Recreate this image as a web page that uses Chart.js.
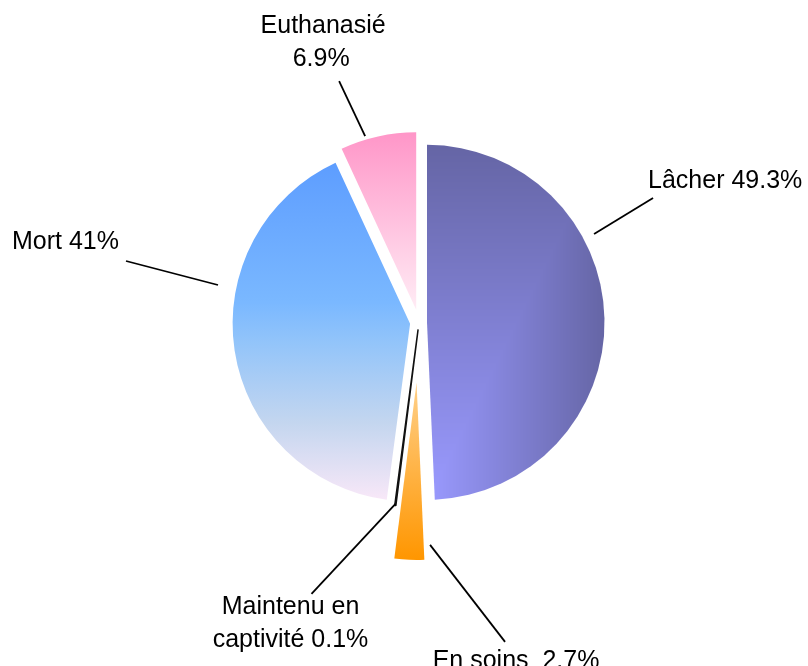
<!DOCTYPE html>
<html lang="fr">
<head>
<meta charset="utf-8">
<script src="https://cdn.jsdelivr.net/npm/chart.js@4.4.1/dist/chart.umd.min.js"></script>
<style>
    html, body { margin: 0; padding: 0; background: #fff; }
    canvas { display: block; }
</style>
</head>
<body>
<canvas id="graphiqueDevenir" width="808" height="666"></canvas>
<script>
const categories   = ['Lâcher', 'En soins', 'Maintenu en captivité', 'Mort', 'Euthanasié'];
const pourcentages = [49.3, 2.7, 0.1, 41, 6.9];
const etiquettes   = [
    ['Lâcher 49.3%'],
    ['En soins  2.7%'],
    ['Maintenu en', 'captivité 0.1%'],
    ['Mort 41%'],
    ['Euthanasié', '6.9%'],
];

const RAYON = 177.5;
const ECARTS = [8, 60, 7, 9, 13];          // décalage de chaque part vers l'extérieur
const POLICE = '25px "Liberation Sans", Arial, sans-serif';
const ETIRAGE_TEXTE = 1.06;

// départ du trait sur la part (fraction de l'angle, distance au centre), trait, puis texte
const REPERES = [
    { frac: 0.35,  dist: 189, trait: [59, -36],  texte: [[-5, -10]],            align: 'left' },
    { frac: -0.23, dist: 163, trait: [75, 97],   texte: [[11, 26]],             align: 'center' },
    { frac: 0.5,   dist: 176, trait: [-84, 90],  texte: [[-21, 20], [-21, 53]], align: 'center' },
    { frac: 0.636, dist: 196, trait: [-92, -24], texte: [[-7, -12]],            align: 'right' },
    { frac: 0.34,  dist: 181, trait: [-26, -55], texte: [[-16, -48], [-18, -15]], align: 'center' },
];

let motifLacher = null;

// dégradé "depuis le coin" : clair en bas à gauche, foncé en haut et à droite
function creerMotifLacher(chart, cx, cy) {
    const c = document.createElement('canvas');
    c.width = chart.width;
    c.height = chart.height;
    const g = c.getContext('2d');
    const img = g.createImageData(c.width, c.height);
    const clair = [154, 154, 255], fonce = [101, 101, 165];
    for (let y = 0; y < c.height; y++) {
        for (let x = 0; x < c.width; x++) {
            const u = Math.min(Math.max((x - cx) / RAYON, 0), 1);
            const v = Math.min(Math.max((cy + RAYON - y) / (2 * RAYON), 0), 1);
            const t = Math.max(u, v);
            const k = (y * c.width + x) * 4;
            for (let j = 0; j < 3; j++) img.data[k + j] = Math.round(clair[j] + (fonce[j] - clair[j]) * t);
            img.data[k + 3] = 255;
        }
    }
    g.putImageData(img, 0, 0);
    return chart.ctx.createPattern(c, 'no-repeat');
}

function couleurPart(context) {
    const chart = context.chart;
    const zone = chart.chartArea;
    if (!zone || context.type !== 'data') return '#999';
    const cx = (zone.left + zone.right) / 2;
    const cy = (zone.top + zone.bottom) / 2;
    const ctx = chart.ctx;
    let d;
    switch (context.dataIndex) {
        case 0:
            if (!motifLacher) motifLacher = creerMotifLacher(chart, cx, cy);
            return motifLacher;
        case 1:
            d = ctx.createLinearGradient(0, cy, 0, cy + RAYON);
            d.addColorStop(0, '#ffd08a');
            d.addColorStop(1, '#ff9600');
            return d;
        case 2:
            return '#111111';
        case 3:
            d = ctx.createLinearGradient(0, cy - RAYON, 0, cy + RAYON);
            d.addColorStop(0, '#5a9aff');
            d.addColorStop(0.44, '#7ab8ff');
            d.addColorStop(0.55, '#92c4fa');
            d.addColorStop(0.78, '#c4d6ef');
            d.addColorStop(1, '#f9e8f8');
            return d;
        default:
            d = ctx.createLinearGradient(0, cy - RAYON, 0, cy);
            d.addColorStop(0, '#ff96c8');
            d.addColorStop(1, '#ffecf5');
            return d;
    }
}

// dessine les parts décalées nous-mêmes (le décalage natif agrandit aussi le rayon)
const partsDecalees = {
    id: 'partsDecalees',
    beforeDatasetDraw(chart, args) {
        const ctx = chart.ctx;
        args.meta.data.forEach((arc, i) => {
            const milieu = (arc.startAngle + arc.endAngle) / 2;
            ctx.save();
            ctx.translate(Math.cos(milieu) * ECARTS[i], Math.sin(milieu) * ECARTS[i]);
            arc.draw(ctx, chart.chartArea);
            ctx.restore();
        });
        return false;
    }
};

const etiquettesReliees = {
    id: 'etiquettesReliees',
    afterDatasetsDraw(chart) {
        const ctx = chart.ctx;
        const meta = chart.getDatasetMeta(0);
        ctx.save();
        ctx.font = POLICE;
        ctx.fillStyle = '#000';
        ctx.strokeStyle = '#000';
        ctx.lineWidth = 1.8;
        meta.data.forEach((arc, i) => {
            const r = REPERES[i];
            const milieu = (arc.startAngle + arc.endAngle) / 2;
            const a = arc.startAngle + r.frac * (arc.endAngle - arc.startAngle);
            const x0 = arc.x + Math.cos(milieu) * ECARTS[i] + Math.cos(a) * r.dist;
            const y0 = arc.y + Math.sin(milieu) * ECARTS[i] + Math.sin(a) * r.dist;
            const x1 = x0 + r.trait[0];
            const y1 = y0 + r.trait[1];
            ctx.beginPath();
            ctx.moveTo(x0, y0);
            ctx.lineTo(x1, y1);
            ctx.stroke();

            ctx.textAlign = r.align;
            ctx.textBaseline = 'alphabetic';
            etiquettes[i].forEach((ligne, j) => {
                ctx.save();
                ctx.translate(x1 + r.texte[j][0], y1 + r.texte[j][1]);
                ctx.scale(1, ETIRAGE_TEXTE);
                ctx.fillText(ligne, 0, 0);
                ctx.restore();
            });
        });
        ctx.restore();
    }
};

new Chart(document.getElementById('graphiqueDevenir'), {
    type: 'pie',
    data: {
        labels: categories,
        datasets: [{
            data: pourcentages,
            backgroundColor: couleurPart,
            borderColor: ['#fff', '#fff', '#111', '#fff', '#fff'],
            borderWidth: [0, 0, 1.5, 0, 0],
        }]
    },
    options: {
        responsive: false,
        animation: false,
        events: [],
        radius: RAYON,
        layout: { padding: { left: 30, right: 0, top: 0, bottom: 21 } },
        plugins: { legend: { display: false }, tooltip: { enabled: false } }
    },
    plugins: [partsDecalees, etiquettesReliees]
});
</script>
</body>
</html>
